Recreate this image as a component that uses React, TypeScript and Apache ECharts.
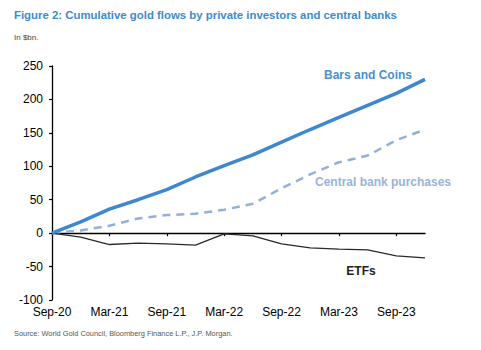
import React, { useEffect, useRef } from "react";
import * as echarts from "echarts";

const categories = [
  "Sep-20", "Dec-20", "Mar-21", "Jun-21", "Sep-21", "Dec-21", "Mar-22",
  "Jun-22", "Sep-22", "Dec-22", "Mar-23", "Jun-23", "Sep-23", "Dec-23",
];
const barsAndCoins = [0, 17, 36, 50, 65, 84, 101, 117, 136, 155, 173, 191, 209, 230];
const centralBank = [0, 4, 11, 22, 27, 29, 35, 44, 67, 88, 106, 116, 139, 155];
const etfs = [0, -6, -17, -15, -16, -18, -1, -4, -16, -22, -24, -25, -34, -37];
const yMin = -100;
const yMax = 250;
const yStep = 50;

const FONT = "'Liberation Sans', Arial, sans-serif";

export default function App() {
  const ref = useRef<HTMLDivElement>(null);
  useEffect(() => {
    if (!ref.current) return;
    const chart = echarts.init(ref.current, undefined, { renderer: "svg" });
    chart.setOption({
      animation: false,
      backgroundColor: "#fff",
      textStyle: { fontFamily: FONT },
      grid: { left: 52, right: 56, top: 66, bottom: 50 },
      xAxis: [
        {
          type: "category",
          data: categories,
          boundaryGap: false,
          position: "top",
          axisLine: { show: true, onZero: true, lineStyle: { color: "#000", width: 1.3 } },
          axisTick: { show: true, inside: true, length: 3, interval: 1, lineStyle: { color: "#000", width: 1.2 } },
          axisLabel: { show: false },
          splitLine: { show: false },
        },
        {
          type: "category",
          data: categories,
          boundaryGap: false,
          position: "bottom",
          axisLine: { show: false, onZero: false },
          axisTick: { show: false },
          axisLabel: { show: true, interval: 1, color: "#000", fontSize: 12, margin: 6, fontFamily: FONT },
          splitLine: { show: false },
        },
      ],
      yAxis: {
        type: "value",
        min: yMin,
        max: yMax,
        interval: yStep,
        axisLine: { show: true, lineStyle: { color: "#000", width: 1.3 } },
        axisTick: { show: true, length: 3, lineStyle: { color: "#000", width: 1.2 } },
        axisLabel: { color: "#000", fontSize: 12, margin: 9, fontFamily: FONT },
        splitLine: { show: false },
      },
      series: [
        {
          name: "Bars and Coins",
          type: "line",
          xAxisIndex: 0,
          data: barsAndCoins,
          showSymbol: false,
          lineStyle: { color: "#3f87cf", width: 3.5 },
          z: 3,
        },
        {
          name: "Central bank purchases",
          type: "line",
          xAxisIndex: 0,
          data: centralBank,
          showSymbol: false,
          lineStyle: { color: "#93b0da", width: 2.5, type: [8, 6] },
          z: 2,
        },
        {
          name: "ETFs",
          type: "line",
          xAxisIndex: 0,
          data: etfs,
          showSymbol: false,
          lineStyle: { color: "#2a2a2a", width: 1.3 },
          z: 2,
        },
      ],
      graphic: [
        {
          type: "text",
          left: 14,
          top: 9,
          style: {
            text: "Figure 2: Cumulative gold flows by private investors and central banks",
            fill: "#3d8ad0",
            font: `bold 11.4px ${FONT}`,
          },
        },
        {
          type: "text",
          left: 14,
          top: 33,
          style: { text: "In $bn.", fill: "#444", font: `8px ${FONT}` },
        },
        {
          type: "text",
          x: 368,
          y: 75,
          style: {
            text: "Bars and Coins",
            fill: "#4a8fd0",
            font: `bold 12px ${FONT}`,
            align: "center",
            verticalAlign: "middle",
          },
        },
        {
          type: "text",
          x: 383,
          y: 182,
          style: {
            text: "Central bank purchases",
            fill: "#9ab3da",
            font: `bold 12px ${FONT}`,
            align: "center",
            verticalAlign: "middle",
          },
        },
        {
          type: "text",
          x: 361,
          y: 271,
          style: {
            text: "ETFs",
            fill: "#222",
            font: `bold 12px ${FONT}`,
            align: "center",
            verticalAlign: "middle",
          },
        },
        {
          type: "text",
          left: 14,
          top: 330,
          style: {
            text: "Source: World Gold Council, Bloomberg Finance L.P., J.P. Morgan.",
            fill: "#555",
            font: `7.4px ${FONT}`,
          },
        },
      ],
    });
    return () => chart.dispose();
  }, []);
  return (
    <div
      ref={ref}
      style={{ position: "fixed", left: 0, top: 0, width: 481, height: 350 }}
    />
  );
}
